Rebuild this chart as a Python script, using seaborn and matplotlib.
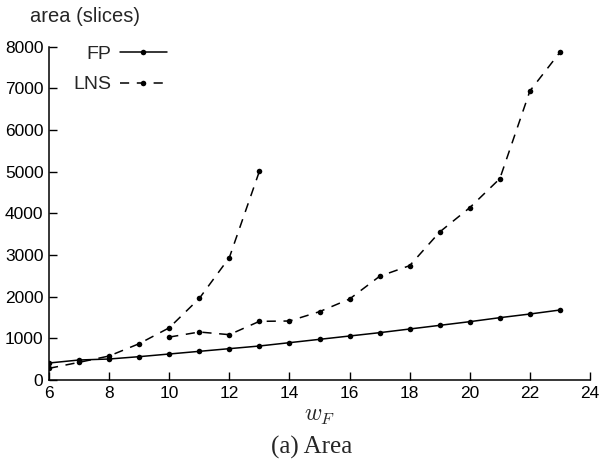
import matplotlib
matplotlib.use("Agg")
import matplotlib.pyplot as plt
import seaborn as sns
import pandas as pd

# data
w_fp = list(range(6, 24))
area_fp = [408, 480, 504, 560, 624, 688, 752, 816, 896, 976, 1056, 1136, 1224, 1312, 1400, 1496, 1584, 1680]

w_lns_a = list(range(6, 14))
area_lns_a = [280, 424, 576, 872, 1253, 1957, 2938, 5010]

w_lns_b = list(range(10, 24))
area_lns_b = [1030, 1152, 1088, 1408, 1416, 1640, 1944, 2489, 2745, 3553, 4137, 4833, 6937, 7866]

x_ticks = list(range(6, 25, 2))
y_ticks = list(range(0, 8001, 1000))

sns.set_style("ticks")
plt.rcParams['font.family'] = ['Liberation Sans', 'DejaVu Sans']
plt.rcParams['mathtext.fontset'] = 'cm'

W, H = 599, 462
fig = plt.figure(figsize=(W / 100, H / 100), dpi=100)
ax = fig.add_axes([49 / W, 1 - 380 / H, (590 - 49) / W, (380 - 46.7) / H])

df_fp = pd.DataFrame({'w': w_fp, 'area': area_fp})
df_a = pd.DataFrame({'w': w_lns_a, 'area': area_lns_a})
df_b = pd.DataFrame({'w': w_lns_b, 'area': area_lns_b})

style = dict(color='black', marker='o', markersize=4, markeredgewidth=0, linewidth=1.1)
dash = (0, (6, 5))
sns.lineplot(data=df_fp, x='w', y='area', ax=ax, label='FP', **style)
sns.lineplot(data=df_a, x='w', y='area', ax=ax, label='LNS', linestyle=dash, **style)
sns.lineplot(data=df_b, x='w', y='area', ax=ax, label='_nolegend_', linestyle=dash, **style)

ax.set_xlim(6, 24)
ax.set_ylim(0, 8000)
ax.set_xticks(x_ticks)
ax.set_yticks(y_ticks)
ax.tick_params(direction='in', length=6, width=1, labelsize=12.5, colors='black', pad=4)
sns.despine(ax=ax)
for s in ['left', 'bottom']:
    ax.spines[s].set_linewidth(1.1)
    ax.spines[s].set_color('black')

ax.set_xlabel('')
ax.set_ylabel('')
fig.text(30 / W, 1 - 17 / H, 'area (slices)', fontsize=14.5, va='center', ha='left')
fig.text(320 / W, 1 - 416 / H, r'$w_F$', fontsize=17, va='center', ha='center')
fig.text(312 / W, 1 - 447 / H, '(a) Area', fontsize=18, va='center', ha='center',
         family=['Liberation Serif', 'DejaVu Serif'])

leg = ax.legend(loc='upper right', bbox_to_anchor=(184 / W, 1 - 28 / H),
                bbox_transform=fig.transFigure, frameon=False, markerfirst=False,
                fontsize=14, handlelength=2.4, labelspacing=0.65, handletextpad=0.45)
for t in leg.get_texts():
    t.set_ha('right')

fig.savefig('out.png', dpi=100)
